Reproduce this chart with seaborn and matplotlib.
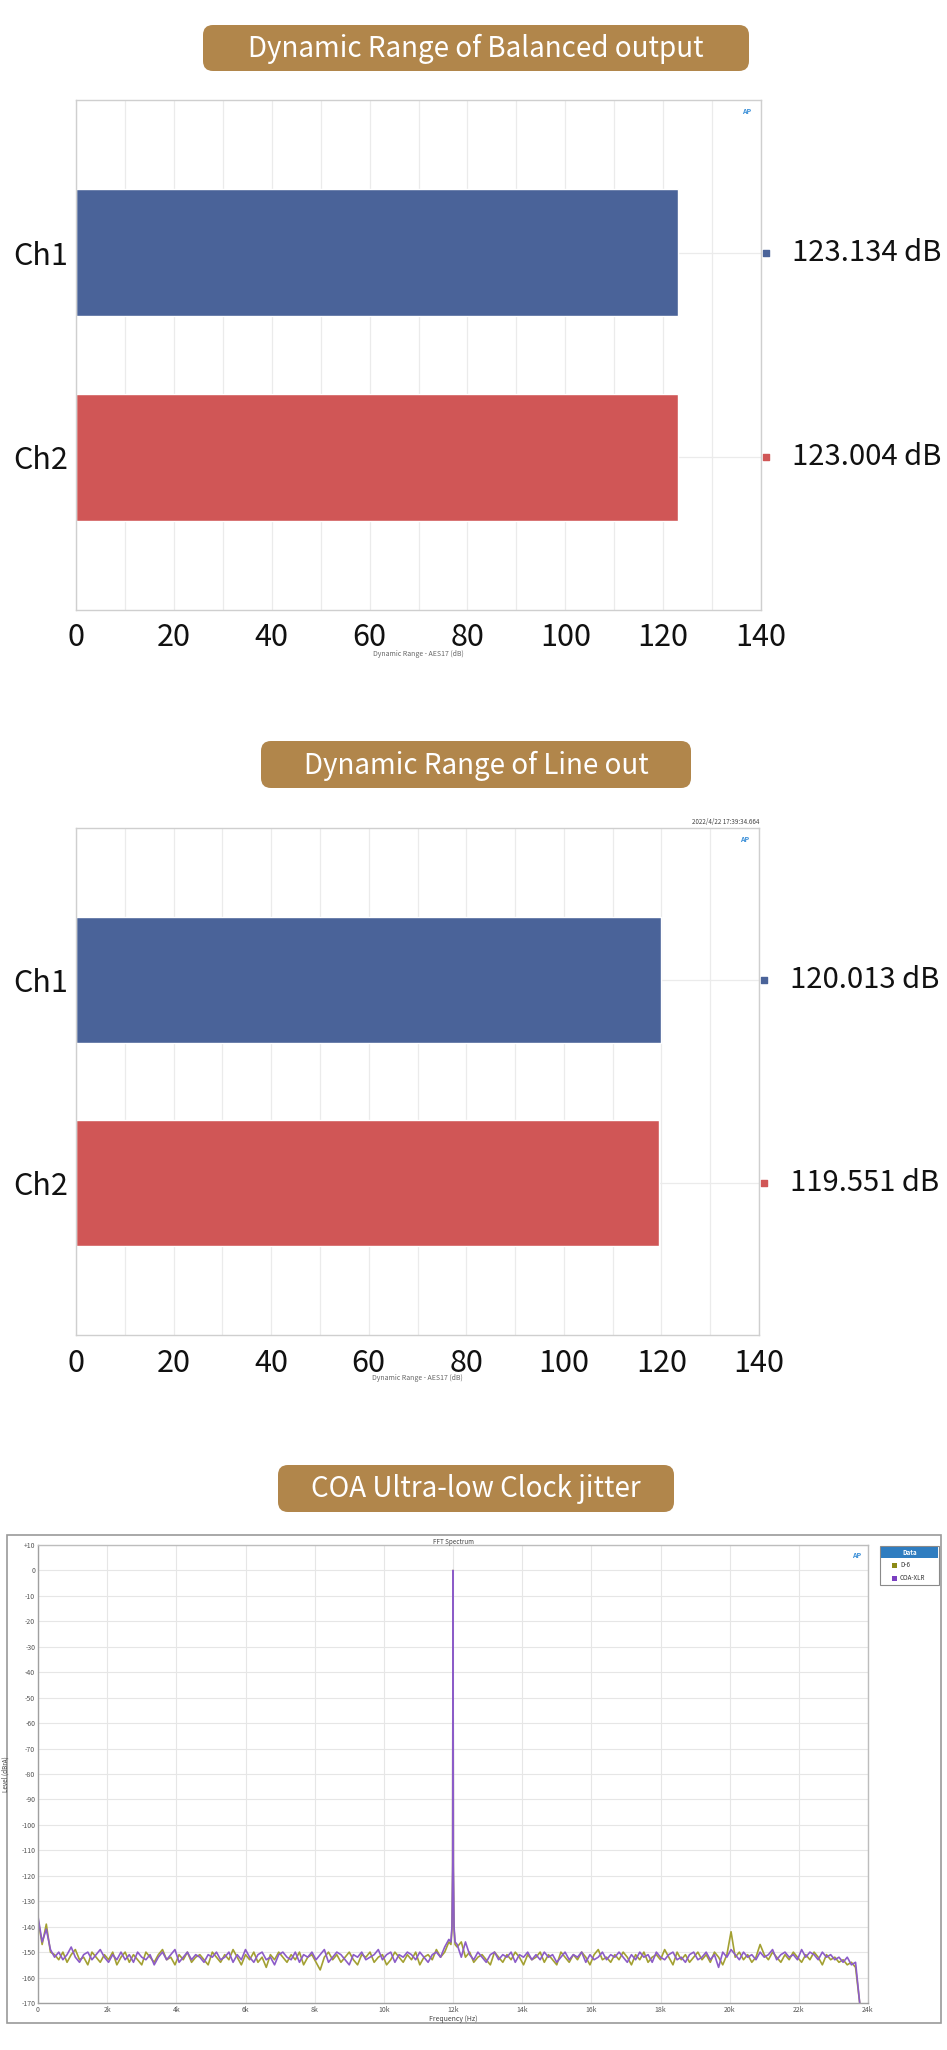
import numpy as np
import pandas as pd
import matplotlib
matplotlib.use('Agg')
import matplotlib.pyplot as plt
from matplotlib.patches import FancyBboxPatch, Rectangle
from matplotlib.ticker import FuncFormatter
import seaborn as sns

# bar charts
channels = ['Ch1', 'Ch2']
balanced_dr = [123.134, 123.004]
lineout_dr = [120.013, 119.551]
bar_colors = ['#4A6399', '#D05656']

# FFT spectrum, 120 Hz bins from 0 to 23760 Hz (dB)
d6_level = [
    -137, -147, -139, -150, -151, -153, -150, -154, -151, -149, -153, -152, -155, -150, -152, -154, -151, -153, -150, -155,
    -152, -150, -154, -151, -153, -155, -150, -152, -154, -151, -149, -153, -152, -155, -151, -153, -150, -154, -152, -151,
    -153, -155, -150, -152, -154, -151, -153, -149, -152, -155, -151, -153, -150, -154, -152, -156, -151, -153, -150, -152,
    -154, -151, -153, -150, -155, -152, -151, -154, -157, -152, -150, -153, -151, -154, -152, -150, -153, -155, -151, -152,
    -150, -154, -152, -151, -155, -153, -150, -152, -154, -151, -153, -150, -155, -152, -151, -153, -149, -152, -150, -146,
    0, -148, -146, -152, -150, -154, -152, -151, -153, -155, -150, -152, -154, -151, -153, -150, -152, -155, -151, -153,
    -152, -150, -154, -151, -153, -155, -150, -152, -154, -151, -153, -150, -152, -155, -151, -149, -153, -152, -154, -151,
    -153, -150, -152, -155, -151, -153, -150, -154, -152, -151, -153, -149, -152, -155, -150, -153, -151, -154, -152, -150,
    -153, -151, -154, -150, -152, -155, -151, -142, -152, -150, -153, -151, -154, -152, -147, -151, -153, -150, -152, -154,
    -151, -153, -150, -152, -154, -151, -153, -150, -152, -155, -151, -153, -152, -154, -153, -155, -154, -156, -170,
]
coa_level = [
    -136, -146, -141, -149, -152, -150, -153, -151, -148, -152, -154, -151, -150, -153, -151, -149, -152, -154, -151, -153,
    -150, -153, -151, -154, -150, -152, -153, -151, -155, -152, -150, -153, -151, -149, -154, -152, -150, -153, -151, -152,
    -154, -151, -152, -150, -153, -152, -150, -154, -151, -153, -149, -152, -154, -151, -150, -153, -152, -155, -151, -150,
    -152, -153, -150, -154, -151, -152, -150, -153, -151, -149, -154, -152, -150, -151, -153, -155, -151, -152, -150, -153,
    -152, -151, -149, -153, -151, -150, -154, -151, -152, -150, -151, -153, -150, -152, -154, -151, -150, -152, -148, -145,
    0, -147, -152, -146, -151, -153, -150, -152, -154, -151, -150, -153, -151, -152, -150, -154, -151, -152, -150, -153,
    -151, -153, -150, -152, -151, -154, -152, -150, -153, -151, -152, -150, -154, -151, -153, -152, -150, -153, -151, -152,
    -150, -152, -154, -151, -153, -150, -152, -151, -154, -150, -152, -153, -151, -150, -153, -152, -154, -151, -150, -153,
    -152, -150, -153, -151, -156, -150, -152, -149, -151, -153, -150, -152, -151, -153, -150, -152, -151, -149, -153, -151,
    -150, -152, -151, -153, -149, -152, -150, -151, -153, -150, -152, -151, -153, -152, -154, -152, -155, -154, -170,
]
# extra points around the 12 kHz tone
peak_freq = [11940, 11970, 11990, 12010, 12030, 12060]
peak_d6 = [-147, -141, -118, -118, -141, -147]
peak_coa = [-146, -140, -115, -115, -140, -146]

W, H = 947, 2050
sns.set_style('white')
plt.rcParams['font.family'] = ['Noto Sans CJK SC', 'DejaVu Sans']

fig = plt.figure(figsize=(W / 100, H / 100), dpi=100)
fig.patch.set_facecolor('white')


def px_axes(l, t, r, b, **kw):
    return fig.add_axes([l / W, 1 - b / H, (r - l) / W, (b - t) / H], **kw)


# pixel canvas for decorations
bg = px_axes(0, 0, W, H, zorder=-10)
bg.set_xlim(0, W)
bg.set_ylim(H, 0)
bg.axis('off')

gold = '#B1864B'
titles = [
    (203, 25, 749, 71, 'Dynamic Range of Balanced output'),
    (261, 741, 691, 788, 'Dynamic Range of Line out'),
    (278, 1465, 674, 1512, 'COA Ultra-low Clock jitter'),
]
r = 10
for x0, y0, x1, y1, label in titles:
    bg.add_patch(FancyBboxPatch((x0 + r, y0 + r), x1 - x0 - 2 * r, y1 - y0 - 2 * r,
                                boxstyle=f'round,pad={r}', fc=gold, ec='none'))
    bg.text((x0 + x1) / 2, (y0 + y1) / 2 + 1, label, color='white', fontsize=20,
            ha='center', va='center')


def bar_panel(ax, values):
    sns.barplot(x=values, y=channels, hue=channels, palette=bar_colors, orient='h',
                width=0.62, saturation=1, legend=False, ax=ax)
    ax.set_xlim(0, 140)
    ax.set_ylim(1.745, -0.745)
    ax.set_xticks(range(0, 141, 20))
    ax.set_xticks(range(0, 141, 10), minor=True)
    ax.grid(which='both', axis='x', color='#EBEBEB', lw=0.9)
    ax.grid(axis='y', color='#EBEBEB', lw=0.9)
    ax.set_axisbelow(True)
    ax.tick_params(axis='both', which='both', length=0, labelsize=22, labelcolor='#111111')
    ax.tick_params(axis='x', pad=9)
    ax.tick_params(axis='y', pad=6)
    for s in ax.spines.values():
        s.set_color('#CFCFCF')
        s.set_linewidth(1.0)
    ax.set_ylabel('')
    for i, v in enumerate(values):
        tr = ax.get_yaxis_transform()
        ax.scatter([1.008], [i], marker='s', s=22, color=bar_colors[i], transform=tr, clip_on=False)
        ax.text(1.045, i, f'{v:.3f} dB', transform=tr, fontsize=21, va='center', ha='left',
                color='#111111')
    ax.text(0.985, 0.985, 'AP', transform=ax.transAxes, fontsize=5, color='#3A8FD8',
            fontstyle='italic', fontweight='bold', ha='right', va='top')


ax1 = px_axes(76, 100, 761, 610)
bar_panel(ax1, balanced_dr)
ax1.set_xlabel('Dynamic Range - AES17 (dB)', fontsize=5, color='#666666')
ax1.xaxis.set_label_coords(0.5, -0.078)

ax2 = px_axes(76, 828, 759, 1335)
bar_panel(ax2, lineout_dr)
ax2.set_xlabel('Dynamic Range - AES17 (dB)', fontsize=5, color='#666666')
ax2.xaxis.set_label_coords(0.5, -0.077)
ax2.text(1.0, 1.004, '2022/4/22 17:39:34.664', transform=ax2.transAxes, fontsize=4.5,
         color='#444444', ha='right', va='bottom')

# spectrum panel
bg.add_patch(Rectangle((7, 1535), 934, 488, fc='none', ec='#9A9A9A', lw=1.2))
grid_freq = np.arange(0, 23761, 120)
n = len(grid_freq) + len(peak_freq)
spec = pd.DataFrame({
    'freq': np.concatenate([grid_freq, peak_freq, grid_freq, peak_freq]),
    'level': np.concatenate([d6_level, peak_d6, coa_level, peak_coa]),
    'series': ['D-6'] * n + ['COA-XLR'] * n,
})
olive = '#A3A032'
purple = '#8C5CC8'
ax3 = px_axes(38, 1545, 868, 2003)
sns.lineplot(data=spec, x='freq', y='level', hue='series', hue_order=['D-6', 'COA-XLR'],
             palette={'D-6': olive, 'COA-XLR': purple}, estimator=None, lw=1.2,
             legend=False, ax=ax3)
ax3.set_xlim(0, 24000)
ax3.set_ylim(-170, 10)
ax3.set_xticks(range(0, 24001, 2000))
ax3.set_yticks(range(-170, 11, 10))
ax3.xaxis.set_major_formatter(FuncFormatter(lambda v, p: '0' if v == 0 else f'{int(v / 1000)}k'))
ax3.yaxis.set_major_formatter(FuncFormatter(lambda v, p: f'+{int(v)}' if v > 0 else f'{int(v)}'))
ax3.grid(color='#E6E6E6', lw=0.8)
ax3.tick_params(length=0, labelsize=5, labelcolor='#555555', pad=2)
for s in ax3.spines.values():
    s.set_color('#BDBDBD')
    s.set_linewidth(1.0)
ax3.spines['left'].set_color('#A0A0A0')
ax3.spines['bottom'].set_color('#A0A0A0')
ax3.set_xlabel('Frequency (Hz)', fontsize=5, color='#444444', labelpad=1)
ax3.set_ylabel('Level (dBrA)', fontsize=4.5, color='#444444')
ax3.yaxis.set_label_coords(-0.034, 0.5)
ax3.set_title('FFT Spectrum', fontsize=4.5, color='#444444', pad=1)
ax3.text(0.992, 0.985, 'AP', transform=ax3.transAxes, fontsize=5, color='#3A8FD8',
         fontstyle='italic', fontweight='bold', ha='right', va='top')

# legend box
bg.add_patch(Rectangle((880, 1546), 59, 39, fc='white', ec='#8A8A8A', lw=0.8))
bg.add_patch(Rectangle((881, 1547), 57, 11, fc='#2F7DC0', ec='none'))
bg.text(909.5, 1552.5, 'Data', color='white', fontsize=4.5, fontweight='bold', ha='center', va='center')
for yy, lab, col in [(1565, 'D-6', '#8C8A16'), (1578, 'COA-XLR', '#7A3FC0')]:
    bg.add_patch(Rectangle((892, yy - 2.5), 5, 5, fc=col, ec='none'))
    bg.text(900, yy, lab, fontsize=4.5, color='#333333', ha='left', va='center')

fig.savefig('out.png', dpi=100, facecolor='white')
